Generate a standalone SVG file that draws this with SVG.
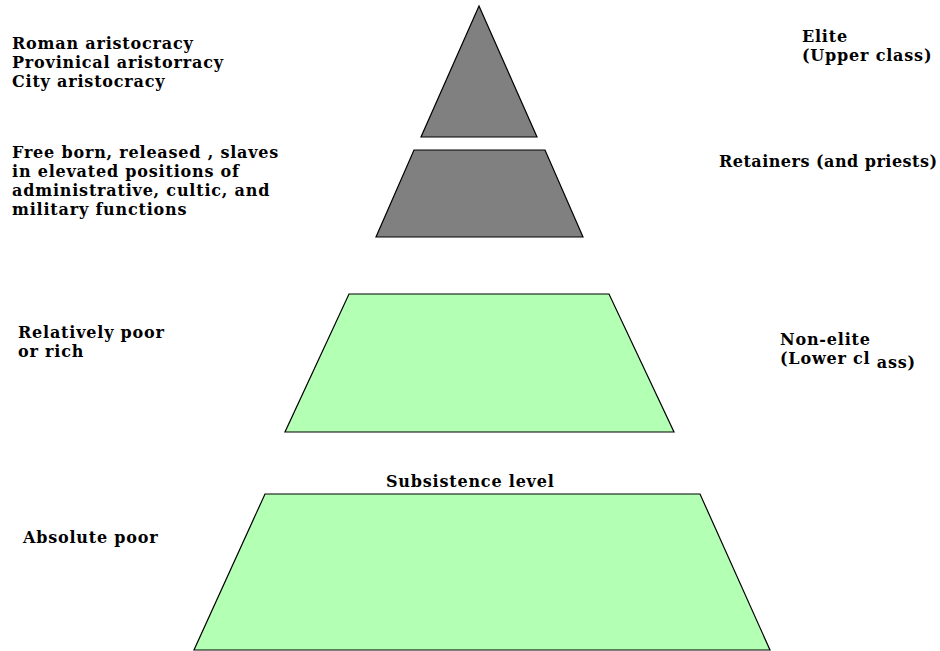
<svg xmlns="http://www.w3.org/2000/svg" width="940" height="651" viewBox="0 0 940 651">
<style>
.t{font-family:"DejaVu Serif","Liberation Serif",serif;font-weight:bold;font-size:16px;letter-spacing:0.8px;fill:#000}
.g{fill:#808080;stroke:#000;stroke-width:1.2}
.l{fill:#b3ffb3;stroke:#000;stroke-width:1.2}
</style>
<rect width="940" height="651" fill="#fff"/>
<g id="elite"><polygon class="g" points="479,6 537,137 421,137"/></g>
<g id="retainers"><polygon class="g" points="414,150 545,150 583,237 376,237"/></g>
<g id="nonelite"><polygon class="l" points="349,294 609,294 674,432 285,432"/></g>
<g id="poor"><polygon class="l" points="265,494 700,494 770,650 194,650"/></g>
<g id="labels">
<text class="t" x="12" y="49">Roman aristocracy</text>
<text class="t" x="12" y="68">Provinical aristorracy</text>
<text class="t" x="12" y="87">City aristocracy</text>
<text class="t" x="12" y="158">Free born, released , slaves</text>
<text class="t" x="12" y="177">in elevated positions of</text>
<text class="t" x="12" y="196">administrative, cultic, and</text>
<text class="t" x="12" y="215">military functions</text>
<text class="t" x="802" y="42">Elite</text>
<text class="t" x="802" y="61">(Upper class)</text>
<text class="t" x="719" y="167" textLength="218" lengthAdjust="spacing" style="letter-spacing:0">Retainers (and priests)</text>
<text class="t" x="780" y="345">Non-elite</text>
<text class="t" x="780" y="364">(Lower cl<tspan dy="4"> ass)</tspan></text>
<text class="t" x="18" y="338">Relatively poor</text>
<text class="t" x="18" y="357">or rich</text>
<text class="t" x="386" y="487">Subsistence level</text>
<text class="t" x="23" y="543">Absolute poor</text>
</g>
</svg>
